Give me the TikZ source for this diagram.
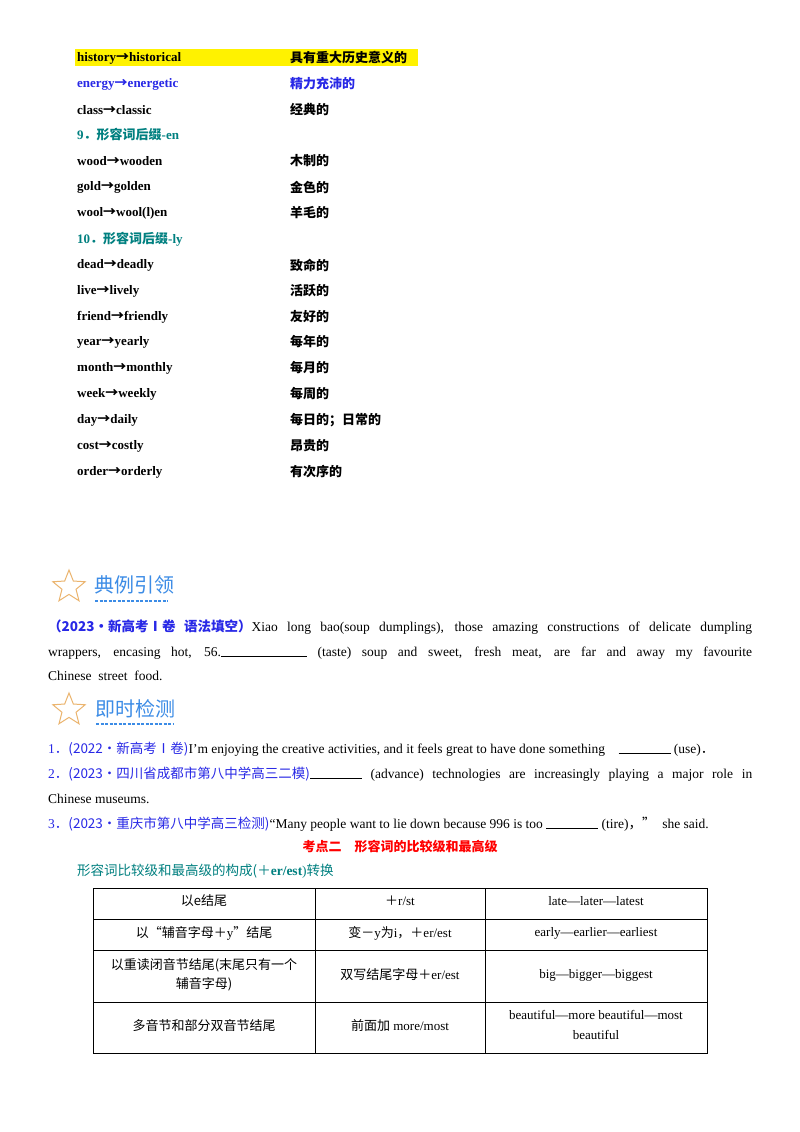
\documentclass[tikz,border=0pt]{standalone}
\usepackage{fontspec}
\setmainfont{Liberation Serif}
\newfontfamily\cjk{Noto Sans CJK SC}
\usetikzlibrary{shapes.geometric}
\definecolor{teal9}{RGB}{0,128,128}
\definecolor{hblue}{RGB}{60,140,230}
\definecolor{sblue}{RGB}{40,40,230}
\definecolor{starc}{RGB}{235,180,110}
\newcommand{\ar}{{\cjk →}}
\newcommand{\fw}[1]{{\cjk #1}}
\begin{document}
\begin{tikzpicture}[x=1pt,y=-1pt,
 t/.style={anchor=west,inner sep=0pt,font=\fontsize{13}{15}\selectfont\bfseries},
 b/.style={anchor=west,inner sep=0pt,font=\fontsize{13.5}{16}\selectfont},
 par/.style={anchor=north west,inner sep=0pt,text width=704pt,align=justify,font=\fontsize{13.5}{24.5}\selectfont},
 c/.style={anchor=center,inner sep=0pt,font=\fontsize{13}{15}\selectfont},
 starico/.style={draw=starc,line width=1pt,star,star points=5,star point ratio=2.3,minimum size=34pt,inner sep=0pt},
 head/.style={anchor=west,inner sep=0pt,text=hblue,font=\fontsize{20}{22}\selectfont\cjk}]
\useasboundingbox (0,0) rectangle (800,1132);
\fill[white] (0,0) rectangle (800,1132);
\fill[yellow] (75,49) rectangle (418,66);
\node[t] (a1) at (77,58) {history\ar historical};
\node[t] (b1) at (290,58) {\cjk 具有重大历史意义的};
\node[t,text=sblue] (a2) at (77,84) {energy\ar energetic};
\node[t,text=sblue] (b2) at (290,84) {\cjk 精力充沛的};
\node[t] (a3) at (77,110) {class\ar classic};
\node[t] (b3) at (290,110) {\cjk 经典的};
\node[t,text=teal9] (h9) at (77,135) {9\fw{．形容词后缀}-en};
\node[t] (a4) at (77,161) {wood\ar wooden};
\node[t] (b4) at (290,161) {\cjk 木制的};
\node[t] (a5) at (77,187) {gold\ar golden};
\node[t] (b5) at (290,187) {\cjk 金色的};
\node[t] (a6) at (77,213) {wool\ar wool(l)en};
\node[t] (b6) at (290,213) {\cjk 羊毛的};
\node[t,text=teal9] (h10) at (77,239) {10\fw{．形容词后缀}-ly};
\node[t] (a7) at (77,265) {dead\ar deadly};
\node[t] (b7) at (290,265) {\cjk 致命的};
\node[t] (a8) at (77,291) {live\ar lively};
\node[t] (b8) at (290,291) {\cjk 活跃的};
\node[t] (a9) at (77,317) {friend\ar friendly};
\node[t] (b9) at (290,317) {\cjk 友好的};
\node[t] (a10) at (77,342) {year\ar yearly};
\node[t] (b10) at (290,342) {\cjk 每年的};
\node[t] (a11) at (77,368) {month\ar monthly};
\node[t] (b11) at (290,368) {\cjk 每月的};
\node[t] (a12) at (77,394) {week\ar weekly};
\node[t] (b12) at (290,394) {\cjk 每周的};
\node[t] (a13) at (77,420) {day\ar daily};
\node[t] (b13) at (290,420) {\cjk 每日的；日常的};
\node[t] (a14) at (77,446) {cost\ar costly};
\node[t] (b14) at (290,446) {\cjk 昂贵的};
\node[t] (a15) at (77,472) {order\ar orderly};
\node[t] (b15) at (290,472) {\cjk 有次序的};
% heading 1
\node[starico] (s1) at (69,587) {};
\node[head] (hd1) at (94,585) {典例引领};
\draw[hblue,line width=1.5pt,dash pattern=on 3pt off 1.5pt] (95,601) -- (168,601);
\node[par] (p1) at (48,620) {\textcolor{sblue}{\bfseries\cjk （2023·新高考Ⅰ卷\ 语法填空）}Xiao long bao(soup dumplings), those amazing constructions of delicate dumpling\linebreak wrappers, encasing hot, 56.\rule{86pt}{0.6pt} (taste) soup and sweet, fresh meat, are far and away my favourite\linebreak Chinese\ \ street\ \ food.};
% heading 2
\node[starico] (s2) at (69,710) {};
\node[head] (hd2) at (95,709) {即时检测};
\draw[hblue,line width=1.5pt,dash pattern=on 3pt off 1.5pt] (96,724) -- (173,724);
\node[b] (q1) at (48,749) {\textcolor{sblue}{1\fw{．(2022·新高考Ⅰ卷)}}I'm enjoying the creative activities, and it feels great to have done something\quad \rule{52pt}{0.6pt} (use)\fw{．}};
\node[par] (q2) at (48,767) {\textcolor{sblue}{2\fw{．(2023·四川省成都市第八中学高三二模)}}\rule{52pt}{0.6pt} (advance) technologies are increasingly playing a major role in\linebreak Chinese museums.};
\node[b] (q4) at (48,824) {\textcolor{sblue}{3\fw{．(2023·重庆市第八中学高三检测)}}“Many people want to lie down because 996 is too \rule{52pt}{0.6pt} (tire)\fw{，”}\ \ she said.};
\node[c,text=red,font=\fontsize{13}{15}\selectfont\bfseries\cjk] (kd) at (400,847) {考点二\quad 形容词的比较级和最高级};
\node[b,text=teal9] (tt) at (77,871) {\fw{形容词比较级和最高级的构成(＋}{\bfseries er/est})\fw{转换}};
% table
\draw[line width=0.6pt] (93,888) rectangle (707,1053);
\foreach \y in {919,950,1002} \draw[line width=0.6pt] (93,\y) -- (707,\y);
\draw[line width=0.6pt] (315,888) -- (315,1053);
\draw[line width=0.6pt] (485,888) -- (485,1053);
\node[c] (c11) at (204,901) {\cjk 以e结尾};
\node[c] (c12) at (400,901) {\fw{＋}r/st};
\node[c] (c13) at (596,901) {late—later—latest};
\node[c] (c21) at (204,933) {\fw{以“辅音字母＋}y\fw{”结尾}};
\node[c] (c22) at (400,933) {\fw{变－}y\fw{为}i\fw{，＋}er/est};
\node[c] (c23) at (596,933) {early—earlier—earliest};
\node[c,align=center] (c31) at (204,975) {{\cjk 以重读闭音节结尾(末尾只有一个}\\[4pt]{\cjk 辅音字母)}};
\node[c] (c32) at (400,975) {\fw{双写结尾字母＋}er/est};
\node[c] (c33) at (596,975) {big—bigger—biggest};
\node[c] (c41) at (204,1026) {\cjk 多音节和部分双音节结尾};
\node[c] (c42) at (400,1026) {{\cjk 前面加} more/most};
\node[c,align=center] (c43) at (596,1025) {beautiful—more beautiful—most\\[5pt]beautiful};
\end{tikzpicture}
\end{document}
